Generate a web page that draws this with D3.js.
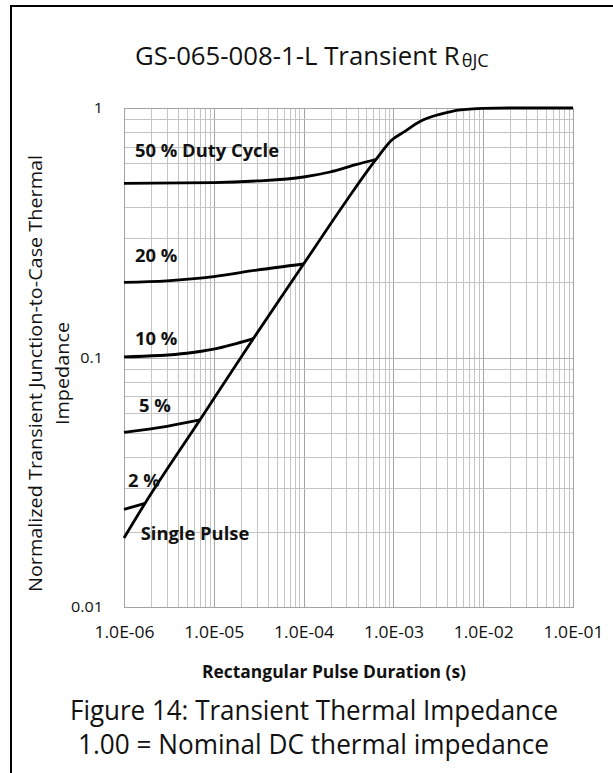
<!DOCTYPE html>
<html><head><meta charset="utf-8">
<script src="https://cdn.jsdelivr.net/npm/d3@7"></script>
<style>
html,body{margin:0;padding:0;background:#fff;}
svg{display:block;}
text{font-family:"Open Sans","Noto Sans",sans-serif;fill:#111;}
</style></head>
<body>
<svg id="c" width="613" height="773"></svg>
<script>
// ---------- data ----------
const xTickValues = [1e-6, 1e-5, 1e-4, 1e-3, 1e-2, 1e-1];
const xTickLabels = ["1.0E-06", "1.0E-05", "1.0E-04", "1.0E-03", "1.0E-02", "1.0E-01"];
const yTickValues = [0.01, 0.1, 1];
const yTickLabels = ["0.01", "0.1", "1"];

const singleT = [1e-6, 1.71e-6, 7.0e-6, 2.75e-5, 1.0e-4, 3.0e-4, 6.4e-4, 9.6e-4, 1.3e-3, 2.0e-3, 3.0e-3, 3.9e-3, 5.0e-3, 7.0e-3, 1.0e-2, 2.0e-2, 1e-1];
const singleZ = [0.0189, 0.026, 0.0562, 0.119, 0.237, 0.425, 0.622, 0.744, 0.80, 0.885, 0.935, 0.958, 0.978, 0.99, 0.997, 1.0, 1.0];

const d50T = [1e-6, 1e-5, 3.03e-5, 1e-4, 1.97e-4, 3.9e-4, 6.4e-4];
const d50Z = [0.499, 0.502, 0.510, 0.529, 0.554, 0.594, 0.622];

const d20T = [1e-6, 3e-6, 1e-5, 3e-5, 1e-4];
const d20Z = [0.2, 0.203, 0.211, 0.224, 0.237];

const d10T = [1e-6, 5e-6, 1e-5, 2.75e-5];
const d10Z = [0.1005, 0.104, 0.108, 0.119];

const d5T = [1e-6, 3e-6, 7.0e-6];
const d5Z = [0.0501, 0.053, 0.0562];

const d2T = [1e-6, 1.71e-6];
const d2Z = [0.0246, 0.026];

const seriesLabels = ["50 % Duty Cycle", "20 %", "10 %", "5 %", "2 %", "Single Pulse"];

// ---------- layout ----------
const svg = d3.select("#c");
const L = 124, R = 573, T = 108, B = 607;
const x = d3.scaleLog().domain([1e-6, 1e-1]).range([L, R]);
const y = d3.scaleLog().domain([0.01, 1]).range([B, T]);
const isMajor = v => Math.abs(Math.log10(v) - Math.round(Math.log10(v))) < 1e-9;

// outer frame (left + top)
svg.append("path").attr("d", "M11,773V6H613").attr("fill", "none").attr("stroke", "#000").attr("stroke-width", 2);

// grid
const g = svg.append("g");
g.selectAll("line.vx").data(x.ticks()).join("line")
  .attr("x1", d => Math.round(x(d)) + 0.5).attr("x2", d => Math.round(x(d)) + 0.5)
  .attr("y1", T).attr("y2", B)
  .attr("stroke", d => isMajor(d) ? "#a4a4a4" : "#c4c4c4").attr("stroke-width", 1);
g.selectAll("line.hy").data(y.ticks()).join("line")
  .attr("y1", d => Math.round(y(d)) + 0.5).attr("y2", d => Math.round(y(d)) + 0.5)
  .attr("x1", L).attr("x2", R)
  .attr("stroke", d => isMajor(d) ? "#b4b4b4" : "#c4c4c4").attr("stroke-width", 1);
g.append("rect").attr("x", L + 0.5).attr("y", T + 0.5).attr("width", R - L).attr("height", B - T)
  .attr("fill", "none").attr("stroke", "#a4a4a4").attr("stroke-width", 1);

// text helpers: set size, then squeeze horizontally to the target width (narrow face look)
function fitW(sel, size, targetW) {
  sel.style("font-size", size + "px");
  const w = sel.node().getComputedTextLength();
  sel.attr("textLength", targetW).attr("lengthAdjust", "spacingAndGlyphs");
  return w > 0 ? targetW / w : 1;
}
function fitR(sel, size, ratio) {
  sel.style("font-size", size + "px");
  const w = sel.node().getComputedTextLength();
  sel.attr("textLength", w * ratio).attr("lengthAdjust", "spacingAndGlyphs");
}
// natural fit: change font size so the unsqueezed width matches
function fitSize(sel, size, targetW) {
  sel.style("font-size", size + "px");
  const w = sel.node().getComputedTextLength();
  if (w > 0) sel.style("font-size", (size * targetW / w) + "px");
  return sel.node().getComputedTextLength();
}

// axes
const xAxis = d3.axisBottom(x).tickValues(xTickValues).tickFormat((d, i) => xTickLabels[i]).tickSize(0).tickPadding(0);
const xa = svg.append("g").attr("transform", `translate(0,${B})`).call(xAxis);
xa.select(".domain").remove();
xa.selectAll("text").attr("y", 31).attr("dy", null).style("font-family", '"Open Sans",sans-serif').attr("fill", "#111")
  .each(function() { fitW(d3.select(this), 16.3, 60); });

const yAxis = d3.axisLeft(y).tickValues(yTickValues).tickFormat((d, i) => yTickLabels[i]).tickSize(0).tickPadding(21);
const ya = svg.append("g").attr("transform", `translate(${L},0)`).call(yAxis);
ya.select(".domain").remove();
ya.selectAll("text").style("font-family", '"Open Sans",sans-serif').attr("fill", "#111");
let yRatio = 1;
ya.selectAll("text").each(function(d) { if (d === 0.01) yRatio = fitW(d3.select(this), 14.5, 32); });
ya.selectAll("text").each(function(d) { if (d !== 0.01) fitR(d3.select(this), 14.5, yRatio); });

// curves
const line = d3.line().x(d => x(d[0])).y(d => y(d[1])).curve(d3.curveMonotoneX);
const series = [[d50T, d50Z], [d20T, d20Z], [d10T, d10Z], [d5T, d5Z], [d2T, d2Z], [singleT, singleZ]];
svg.append("g").selectAll("path").data(series).join("path")
  .attr("d", s => line(s[0].map((t, i) => [t, s[1][i]])))
  .attr("fill", "none").attr("stroke", "#000").attr("stroke-width", 2.8)
  .attr("stroke-linejoin", "round").attr("stroke-linecap", "butt");

// series labels
const labelPos = [[135, 156.7], [135, 262], [135, 345], [139, 411.7], [128, 486.7], [140.7, 540]];
const lab = svg.append("g").selectAll("text").data(seriesLabels).join("text")
  .attr("x", (d, i) => labelPos[i][0]).attr("y", (d, i) => labelPos[i][1])
  .style("font-weight", "700").text(d => d);
const labRatio = fitW(d3.select(lab.nodes()[0]), 17.6, 144);
lab.each(function(d, i) { if (i > 0) fitR(d3.select(this), 17.6, labRatio); });

// title: main text and subscript placed right after it
const title = svg.append("text").attr("x", 135).attr("y", 65).text("GS-065-008-1-L Transient R");
const tw = fitSize(title, 24, 325);
const sub = svg.append("text").attr("x", 135 + tw + 2).attr("y", 67).text("θJC");
fitSize(sub, 13, 27);

// x axis title
const xt = svg.append("text").attr("x", 202).attr("y", 677.7).style("font-weight", "700").text("Rectangular Pulse Duration (s)");
fitW(xt, 18.3, 264);

// y axis title
const yt1 = svg.append("text").attr("transform", "translate(42,373.5) rotate(-90)").attr("text-anchor", "middle")
  .text("Normalized Transient Junction-to-Case Thermal");
const ytR = fitW(yt1, 18.5, 437);
const yt2 = svg.append("text").attr("transform", "translate(69,373.5) rotate(-90)").attr("text-anchor", "middle")
  .text("Impedance");
fitR(yt2, 18.5, ytR);

// caption
const c1 = svg.append("text").attr("x", 70).attr("y", 720).text("Figure 14: Transient Thermal Impedance");
fitW(c1, 27, 488);
const c2 = svg.append("text").attr("x", 78).attr("y", 754).text("1.00 = Nominal DC thermal impedance");
fitW(c2, 27, 471);
</script>
</body></html>
